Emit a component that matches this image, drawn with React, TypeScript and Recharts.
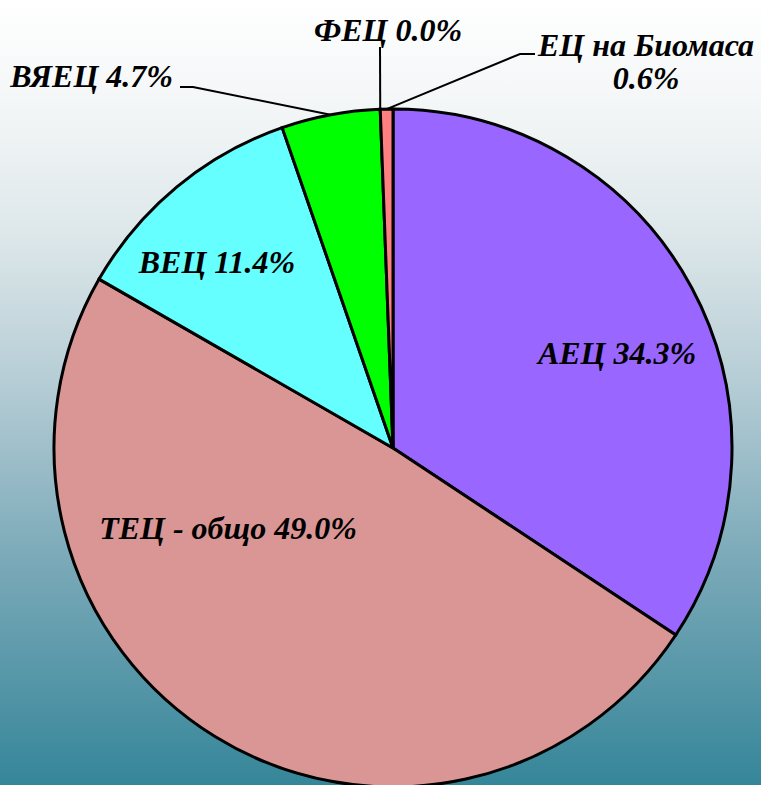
import React from 'react';
import { PieChart, Pie, Cell } from 'recharts';

const sourceNames = ['АЕЦ', 'ТЕЦ - общо', 'ВЕЦ', 'ВЯЕЦ', 'ФЕЦ', 'ЕЦ на Биомаса'];
const sourceShares = [34.3, 49.0, 11.4, 4.7, 0.0, 0.6];
const sliceColors = ['#9966ff', '#d99694', '#66ffff', '#00ff00', '#ffff00', '#ff8080'];

const data = sourceNames.map((name, i) => ({ name, value: sourceShares[i] }));

// label placement relative to the pie centre (text baseline), plus elbow points for leader lines
type Layout = { dx: number; dy: number; anchor: 'start' | 'middle' | 'end'; two?: boolean; line?: [number, number][] };
const labelLayout: Record<string, Layout> = {
    'АЕЦ': { dx: 224, dy: -84, anchor: 'middle' },
    'ТЕЦ - общо': { dx: -165, dy: 91, anchor: 'middle' },
    'ВЕЦ': { dx: -176, dy: -175, anchor: 'middle' },
    'ВЯЕЦ': { dx: -220, dy: -361, anchor: 'end', line: [[-200, -361], [-213, -361]] },
    'ФЕЦ': { dx: -5, dy: -407, anchor: 'middle', line: [[-13, -401]] },
    'ЕЦ на Биомаса': { dx: 253, dy: -392, anchor: 'middle', two: true, line: [[127, -394], [142, -394]] },
};

const RAD = Math.PI / 180;
const font = '"Liberation Serif", "Times New Roman", serif';

const renderLabel = (props: any) => {
    const { cx, cy, midAngle, outerRadius, name, value } = props;
    const lay = labelLayout[name];
    if (!lay) return null;
    const text = `${value.toFixed(1)}%`;
    const sx = cx + outerRadius * Math.cos(-midAngle * RAD);
    const sy = cy + outerRadius * Math.sin(-midAngle * RAD);
    const pts = lay.line ? [[sx, sy], ...lay.line.map(([x, y]) => [cx + x, cy + y])] : null;
    return (
        <g>
            {pts && (
                <polyline
                    points={pts.map((p) => p.join(',')).join(' ')}
                    fill="none"
                    stroke="#000"
                    strokeWidth={2}
                />
            )}
            <text
                x={cx + lay.dx}
                y={cy + lay.dy}
                textAnchor={lay.anchor}
                fontFamily={font}
                fontStyle="italic"
                fontWeight="bold"
                fontSize={32}
                fill="#000"
            >
                {lay.two ? (
                    <>
                        <tspan x={cx + lay.dx}>{name}</tspan>
                        <tspan x={cx + lay.dx} dy={33}>{text}</tspan>
                    </>
                ) : (
                    `${name} ${text}`
                )}
            </text>
        </g>
    );
};

const App: React.FC = () => {
    return (
        <div
            style={{
                position: 'absolute',
                left: 0,
                top: 0,
                width: 761,
                height: 785,
                overflow: 'hidden',
                background:
                    'linear-gradient(to bottom, #ffffff 0%, #f2f5f6 15%, #dde7ea 30%, #b7ced6 48%, #7eabba 70%, #358699 100%)',
            }}
        >
            <PieChart width={761} height={785} margin={{ top: 0, right: 0, bottom: 0, left: 0 }}>
                <Pie
                    data={data}
                    dataKey="value"
                    nameKey="name"
                    cx={393}
                    cy={448}
                    outerRadius={339}
                    startAngle={90}
                    endAngle={-270}
                    stroke="#000"
                    strokeWidth={3}
                    label={renderLabel}
                    labelLine={false}
                    isAnimationActive={false}
                >
                    {data.map((d, i) => (
                        <Cell key={d.name} fill={sliceColors[i]} />
                    ))}
                </Pie>
            </PieChart>
        </div>
    );
};

export default App;
